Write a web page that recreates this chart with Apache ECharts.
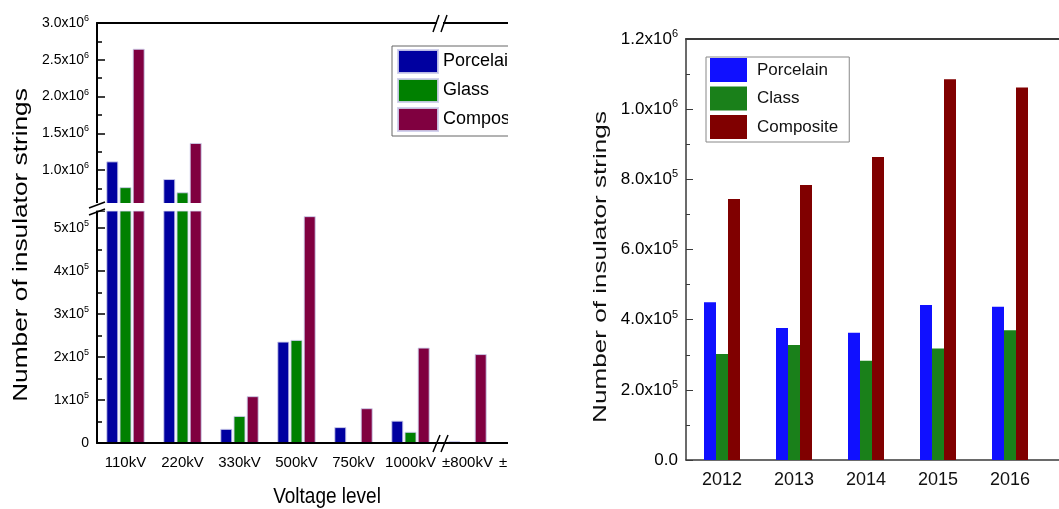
<!DOCTYPE html>
<html>
<head>
<meta charset="utf-8">
<script src="https://cdn.jsdelivr.net/npm/echarts@6/dist/echarts.min.js"></script>
<style>
  body { margin: 0; background: #fff; }
  .wrap { position: absolute; top: 0; height: 509px; overflow: hidden; }
  .chart { width: 620px; height: 509px; }
</style>
</head>
<body>
<div class="wrap" style="left:0;width:508px;"><div id="leftChart" class="chart"></div></div>
<div class="wrap" style="left:512px;width:547px;"><div id="rightChart" class="chart"></div></div>
<script>
// 左图：按电压等级
const leftCategories = ["110kV", "220kV", "330kV", "500kV", "750kV", "1000kV", "±800kV", "±500kV"];
const leftPorcelain = [1120000, 880000, 33000, 236000, 37000, 52000, 4000, null];
const leftGlass = [770000, 700000, 63000, 240000, 0, 26000, 0, null];
const leftComposite = [2650000, 1370000, 109000, 528000, 81000, 222000, 207000, null];

const upperTickValues = [1000000, 1500000, 2000000, 2500000, 3000000];
const upperTickLabels = ["1.0x10^6", "1.5x10^6", "2.0x10^6", "2.5x10^6", "3.0x10^6"];
const lowerTickValues = [0, 100000, 200000, 300000, 400000, 500000];
const lowerTickLabels = ["0", "1x10^5", "2x10^5", "3x10^5", "4x10^5", "5x10^5"];

// 右图：按年份
const years = ["2012", "2013", "2014", "2015", "2016"];
const yearPorcelain = [450000, 376000, 363000, 442000, 437000];
const yearClass = [302000, 328000, 283000, 318000, 370000];
const yearComposite = [744000, 784000, 864000, 1085000, 1062000];

const rightTickValues = [0, 200000, 400000, 600000, 800000, 1000000, 1200000];
const rightTickLabels = ["0.0", "2.0x10^5", "4.0x10^5", "6.0x10^5", "8.0x10^5", "1.0x10^6", "1.2x10^6"];

const FONT = "Liberation Sans, Arial, sans-serif";

function supLabel(text) {
  const p = text.split("^");
  return p.length > 1 ? "{m|" + p[0] + "}{s|" + p[1] + "}" : "{m|" + p[0] + "}";
}
function tickFormatter(values, labels) {
  return function (v) {
    const i = values.indexOf(v);
    return i < 0 ? "" : supLabel(labels[i]);
  };
}
function richStyle(size) {
  return {
    m: { fontSize: size, fontFamily: FONT, color: "#000", lineHeight: size + 4 },
    s: { fontSize: Math.round(size * 0.62), fontFamily: FONT, color: "#000", verticalAlign: "top", lineHeight: 9 }
  };
}

const leftColors = ["#0000a0", "#008000", "#800040"];
const leftNames = ["Porcelain", "Glass", "Composite"];
const leftData = [leftPorcelain, leftGlass, leftComposite];

let leftSeries = [];
[0, 1].forEach(function (g) {
  leftData.forEach(function (d, k) {
    leftSeries.push({
      name: leftNames[k],
      type: "bar",
      xAxisIndex: g,
      yAxisIndex: g,
      data: d,
      barWidth: 12,
      barGap: "10%",
      itemStyle: { color: leftColors[k], borderColor: "rgba(205,205,235,0.9)", borderWidth: 1 }
    });
  });
});

function valueAxis(grid, min, max, interval, values, labels) {
  return {
    type: "value",
    gridIndex: grid,
    min: min,
    max: max,
    interval: interval,
    splitLine: { show: false },
    axisLine: { show: true, lineStyle: { color: "#000", width: 2 } },
    axisTick: { show: true, inside: true, length: 8, lineStyle: { color: "#000", width: 1.5 } },
    minorTick: { show: true, splitNumber: 2, length: 5, lineStyle: { color: "#000", width: 1.5 } },
    axisLabel: { margin: 8, formatter: tickFormatter(values, labels), rich: richStyle(14) }
  };
}

const leftOption = {
  animation: false,
  grid: [
    { left: 97, top: 23, width: 456, height: 184 },
    { left: 97, top: 211, width: 456, height: 232 }
  ],
  legend: {
    data: leftNames,
    orient: "vertical",
    left: 392,
    top: 46,
    padding: [3, 6, 4, 5],
    itemWidth: 40,
    itemHeight: 23,
    itemGap: 4,
    icon: "rect",
    borderColor: "#666",
    borderWidth: 1,
    textStyle: { fontSize: 18, fontFamily: FONT, color: "#000" }
  },
  xAxis: [
    {
      type: "category", gridIndex: 0, data: leftCategories, position: "top",
      axisLine: { lineStyle: { color: "#000", width: 2 } },
      axisTick: { show: false }, axisLabel: { show: false }
    },
    {
      type: "category", gridIndex: 1, data: leftCategories, z: 5,
      axisLine: { lineStyle: { color: "#000", width: 2 } },
      axisTick: { inside: true, alignWithLabel: true, length: 8, lineStyle: { color: "#000", width: 1.5 } },
      axisLabel: { margin: 12, fontSize: 15, fontFamily: FONT, color: "#000", interval: 0 }
    }
  ],
  yAxis: [
    valueAxis(0, 500000, 3000000, 500000, upperTickValues, upperTickLabels),
    valueAxis(1, 0, 540000, 100000, lowerTickValues, lowerTickLabels)
  ],
  series: leftSeries,
  graphic: [
    { type: "text", x: 21, y: 245, rotation: Math.PI / 2, scaleX: 1.25,
      style: { text: "Number of insulator strings", fontSize: 21, fontFamily: FONT, fill: "#000", align: "center", verticalAlign: "middle" } },
    { type: "text", x: 327, y: 497, scaleY: 1.2,
      style: { text: "Voltage level", fontSize: 19, fontFamily: FONT, fill: "#000", align: "center", verticalAlign: "middle" } },
    // 断轴处留白
    { type: "rect", shape: { x: 94, y: 203, width: 470, height: 7.5 }, style: { fill: "#fff" }, z: 100 },
    // 断轴标记
    { type: "line", shape: { x1: 89, y1: 208, x2: 105, y2: 202 }, style: { stroke: "#000", lineWidth: 1.5 }, z: 101 },
    { type: "line", shape: { x1: 89, y1: 215, x2: 105, y2: 209 }, style: { stroke: "#000", lineWidth: 1.5 }, z: 101 },
    { type: "rect", shape: { x: 437, y: 20, width: 6, height: 6 }, style: { fill: "#fff" }, z: 100 },
    { type: "line", shape: { x1: 433, y1: 32, x2: 439, y2: 15 }, style: { stroke: "#000", lineWidth: 1.5 }, z: 101 },
    { type: "line", shape: { x1: 441, y1: 32, x2: 447, y2: 15 }, style: { stroke: "#000", lineWidth: 1.5 }, z: 101 },
    { type: "line", shape: { x1: 433, y1: 452, x2: 440, y2: 435 }, style: { stroke: "#000", lineWidth: 1.5 }, z: 101 },
    { type: "line", shape: { x1: 441, y1: 452, x2: 448, y2: 435 }, style: { stroke: "#000", lineWidth: 1.5 }, z: 101 }
  ]
};

const rightColors = ["#1010ff", "#1a801a", "#800000"];
const rightNames = ["Porcelain", "Class", "Composite"];
const rightData = [yearPorcelain, yearClass, yearComposite];

const rightOption = {
  animation: false,
  grid: { left: 174, top: 39, width: 432, height: 421 },
  legend: {
    data: rightNames,
    orient: "vertical",
    left: 194,
    top: 57,
    padding: [1, 11, 3, 4],
    itemWidth: 37,
    itemHeight: 24,
    itemGap: 4.5,
    icon: "rect",
    borderColor: "#888",
    borderWidth: 1,
    textStyle: { fontSize: 17, fontFamily: FONT, color: "#111", padding: [0, 0, 0, 5] }
  },
  xAxis: [
    {
      type: "category", data: years, max: 5,
      axisLine: { lineStyle: { color: "#3a3a3a", width: 1.5 } },
      axisTick: { inside: true, length: 4, lineStyle: { color: "#3a3a3a" } },
      axisLabel: { margin: 11, fontSize: 18, fontFamily: FONT, color: "#111", interval: 0,
        formatter: function (v) { return v || ""; } }
    },
    {
      type: "category", data: years, max: 5, position: "top",
      axisLine: { lineStyle: { color: "#3a3a3a", width: 2 } },
      axisTick: { show: false }, axisLabel: { show: false }
    }
  ],
  yAxis: {
    type: "value",
    min: 0,
    max: 1200000,
    interval: 200000,
    splitLine: { show: false },
    axisLine: { show: true, lineStyle: { color: "#3a3a3a", width: 1.5 } },
    axisTick: { show: true, inside: true, length: 7, lineStyle: { color: "#3a3a3a" } },
    minorTick: { show: true, splitNumber: 2, length: 4, lineStyle: { color: "#3a3a3a" } },
    axisLabel: { margin: 8, formatter: tickFormatter(rightTickValues, rightTickLabels), rich: richStyle(17) }
  },
  series: rightData.map(function (d, k) {
    return {
      name: rightNames[k],
      type: "bar",
      data: d,
      barWidth: 12,
      barGap: 0,
      itemStyle: { color: rightColors[k] }
    };
  }),
  graphic: [
    { type: "text", x: 89, y: 267, rotation: Math.PI / 2, scaleX: 1.45,
      style: { text: "Number of insulator strings", fontSize: 18, fontFamily: FONT, fill: "#111", align: "center", verticalAlign: "middle" } }
  ]
};

let leftChart = echarts.init(document.getElementById("leftChart"));
leftChart.setOption(leftOption, true);
let rightChart = echarts.init(document.getElementById("rightChart"));
rightChart.setOption(rightOption, true);
</script>
</body>
</html>
